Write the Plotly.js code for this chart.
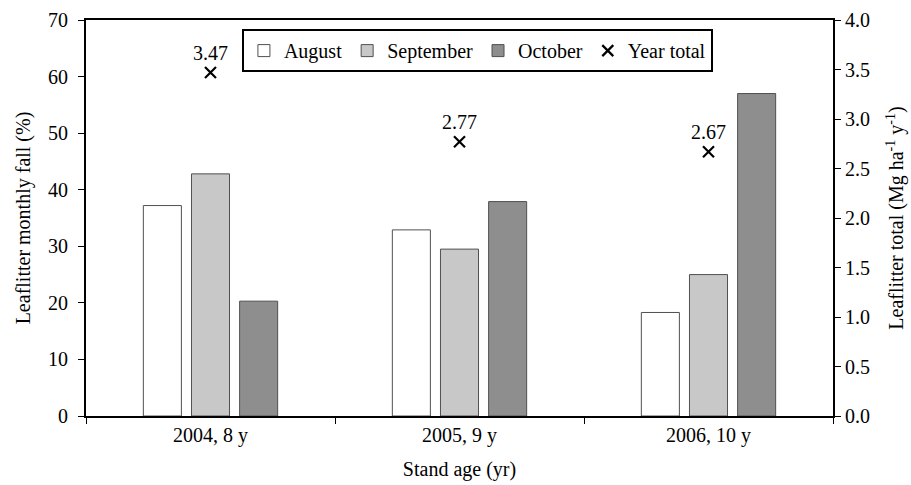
<!DOCTYPE html>
<html>
<head>
<meta charset="utf-8">
<script src="https://cdn.plot.ly/plotly-3.0.1.min.js"></script>
<style>html,body{margin:0;padding:0;background:#fff;}#chart{width:911px;height:485px;}</style>
</head>
<body>
<div id="chart"></div>
<script>
const categories = ["2004, 8 y", "2005, 9 y", "2006, 10 y"];
const august = [37.2, 32.9, 18.3];
const september = [42.8, 29.5, 25.0];
const october = [20.3, 37.9, 57.0];
const yearTotal = [3.47, 2.77, 2.67];
const yearTotalLabels = ["3.47", "2.77", "2.67"];

const font = {family: "'Times New Roman', 'Liberation Serif', 'DejaVu Serif', serif", size: 20, color: "#000"};
const barLine = {color: "#505050", width: 1};

const traces = [
  {type: "bar", name: "August", x: categories, y: august, marker: {color: "#ffffff", line: barLine}},
  {type: "bar", name: "September", x: categories, y: september, marker: {color: "#c8c8c8", line: barLine}},
  {type: "bar", name: "October", x: categories, y: october, marker: {color: "#8e8e8e", line: barLine}},
  {type: "scatter", name: "Year total", x: categories, y: yearTotal, yaxis: "y2",
   mode: "markers+text", text: yearTotalLabels, textposition: "top center",
   textfont: font, cliponaxis: false,
   marker: {symbol: "x-thin", size: 11, color: "#000", line: {color: "#000", width: 2.2}}}
];

const layout = {
  width: 911, height: 485,
  margin: {l: 86, r: 78, t: 20, b: 69},
  paper_bgcolor: "#fff", plot_bgcolor: "#fff",
  font: font,
  barmode: "group", bargap: 0.42, bargroupgap: 0.21,
  showlegend: true,
  legend: {orientation: "h", x: 0.524, xanchor: "center", y: 0.977, yanchor: "top",
    bordercolor: "#000", borderwidth: 2, bgcolor: "#fff", font: font,
    itemwidth: 30, tracegroupgap: 0},
  xaxis: {type: "category", tickson: "boundaries", ticks: "outside", ticklen: 6, tickwidth: 1,
    tickcolor: "#000", showline: true, linecolor: "#000", linewidth: 2, mirror: true,
    showgrid: false, zeroline: false, tickfont: font,
    title: {text: "Stand age (yr)", font: font, standoff: 16}},
  yaxis: {range: [0, 70], dtick: 10, ticks: "outside", ticklen: 6, tickwidth: 1, tickcolor: "#000",
    showline: true, linecolor: "#000", linewidth: 2, showgrid: false, zeroline: false,
    ticklabelstandoff: 6,
    tickfont: font, title: {text: "Leaflitter monthly fall (%)", font: font, standoff: 12}},
  yaxis2: {range: [0, 4], dtick: 0.5, tickformat: ".1f", overlaying: "y", side: "right",
    ticks: "outside", ticklen: 6, tickwidth: 1, tickcolor: "#000",
    showline: true, linecolor: "#000", linewidth: 2, showgrid: false, zeroline: false,
    tickfont: font, title: {text: "Leaflitter total (Mg ha<sup>-1</sup> y<sup>-1</sup>)", font: font, standoff: 20}}
};

Plotly.newPlot("chart", traces, layout, {displayModeBar: false, staticPlot: true});
</script>
</body>
</html>
